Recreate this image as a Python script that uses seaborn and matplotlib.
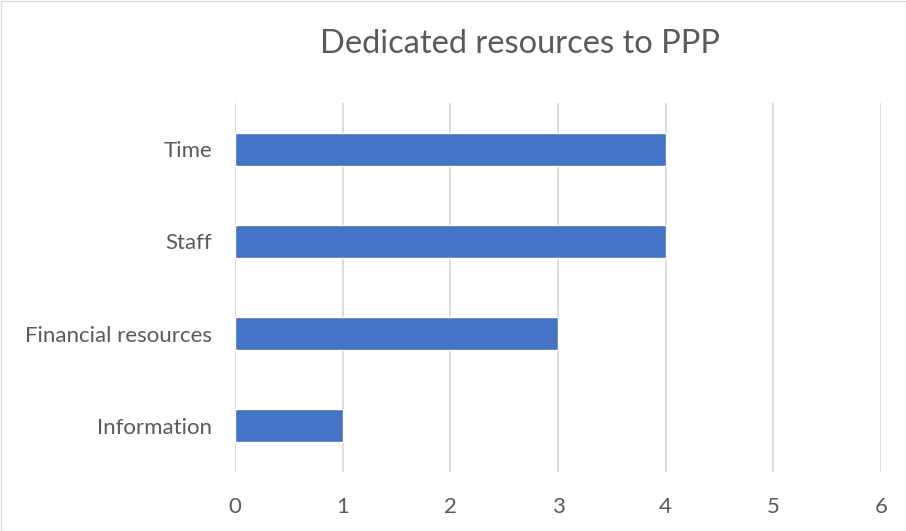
import matplotlib
matplotlib.use("Agg")
import matplotlib.pyplot as plt
import seaborn as sns
import pandas as pd
from matplotlib.patches import Rectangle

categories = ["Time", "Staff", "Financial resources", "Information"]
values = [4, 4, 3, 1]
x_ticks = [0, 1, 2, 3, 4, 5, 6]
title = "Dedicated resources to PPP"

sns.set_theme(style="white")
plt.rcParams['font.family'] = ['Lato', 'DejaVu Sans']

df = pd.DataFrame({"category": categories, "value": values})

fig = plt.figure(figsize=(9.06, 5.31), dpi=100)
ax = fig.add_axes([235/906, 1 - 472/531, (881-235)/906, (472-103)/531])

sns.barplot(data=df, x="value", y="category", order=categories, color="#4472C4",
            width=0.36, saturation=1, ax=ax, zorder=3)

ax.set_xlim(0, 6)
ax.set_xticks(x_ticks)
ax.set_xticklabels([str(t) for t in x_ticks])
ax.xaxis.grid(True, color="#D9D9D9", linewidth=1.3, zorder=0)
ax.set_axisbelow(True)
for s in ax.spines.values():
    s.set_visible(False)
ax.set_xlabel("")
ax.set_ylabel("")
ax.tick_params(axis="both", length=0, labelsize=16, colors="#595959")
ax.tick_params(axis="x", pad=18)
ax.tick_params(axis="y", pad=16.5)

fig.text(520/906, 1 - 44/531, title, ha="center", va="center", fontsize=23.5, color="#595959")

fig.patches.append(Rectangle((0.5/906, 0.5/531), 905/906, 530/531, transform=fig.transFigure,
                             fill=False, edgecolor="#D9D9D9", linewidth=1))

fig.savefig("out.png", dpi=100)
